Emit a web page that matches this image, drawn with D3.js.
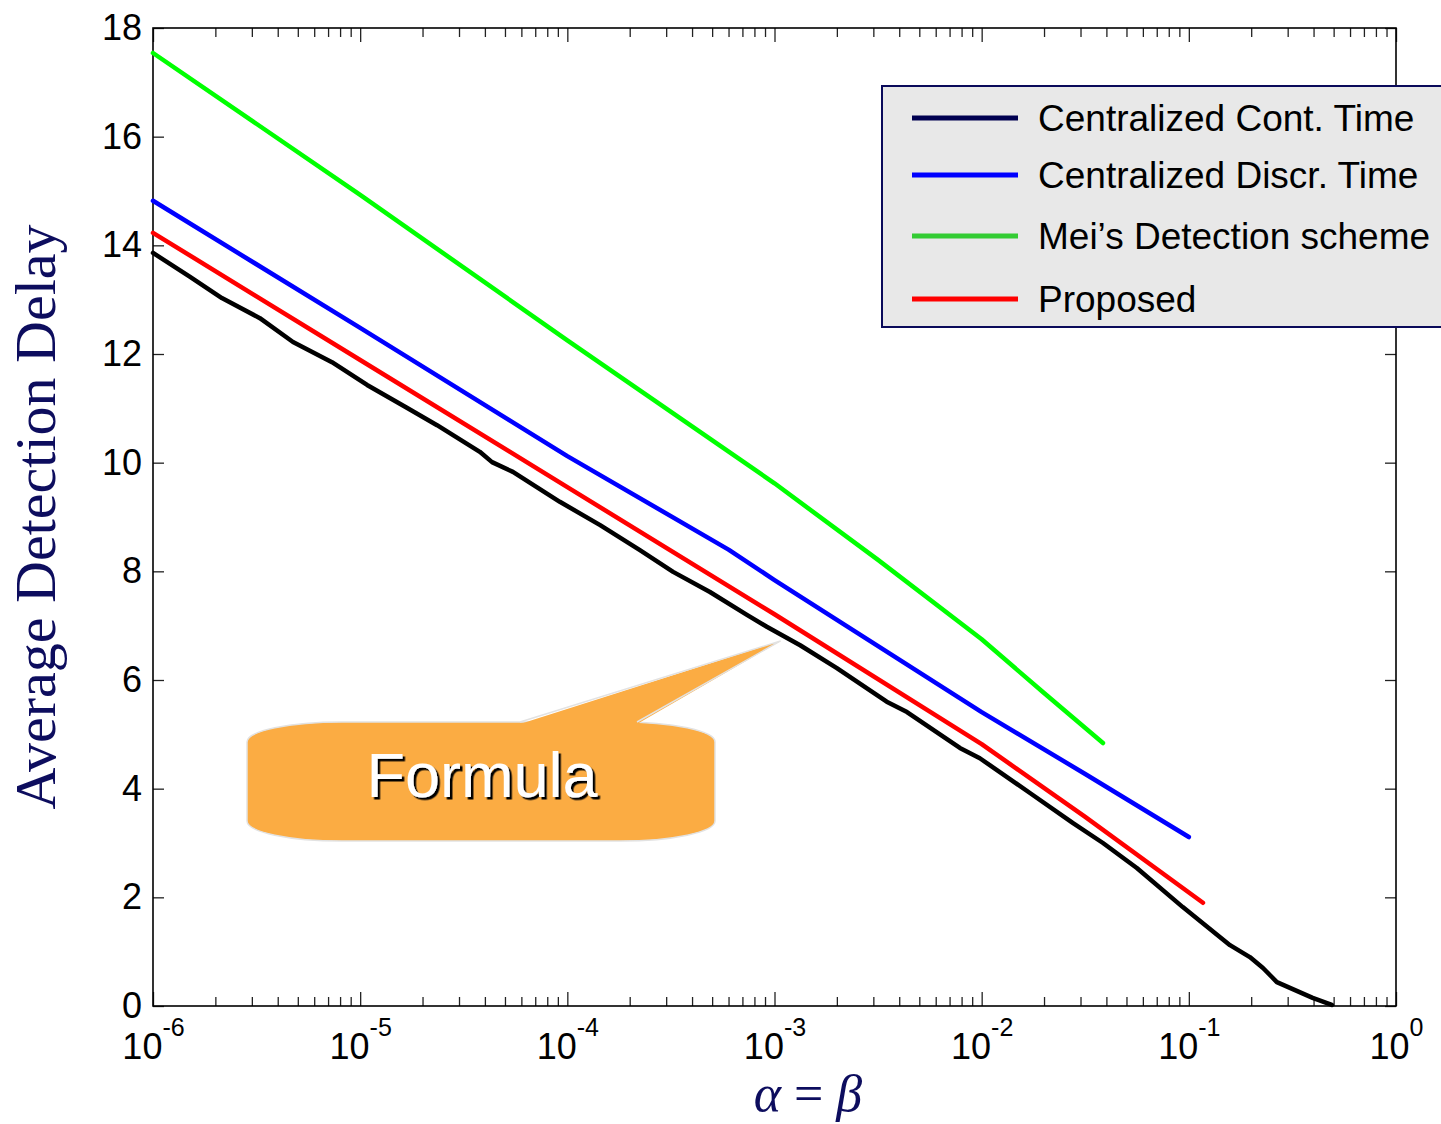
<!DOCTYPE html>
<html>
<head>
<meta charset="utf-8">
<script src="https://cdn.jsdelivr.net/npm/d3@7"></script>
<style>
  body { margin: 0; background: #fff; }
  svg { display: block; }
  .tick-label { font-family: "Liberation Sans", Arial, sans-serif; fill: #000; }
  .legend-text { font-family: "Liberation Sans", Arial, sans-serif; font-size: 37px; fill: #000; }
</style>
</head>
<body>
<svg id="chart" width="1441" height="1124"></svg>
<script>
// ---- data ----
const contAlpha = [1e-6, 1.51e-6, 2.15e-6, 3.28e-6, 4.74e-6, 7.31e-6, 1.08e-5, 1.68e-5, 2.35e-5, 3.78e-5,
  4.33e-5, 5.46e-5, 9.2e-5, 1.44e-4, 2.24e-4, 3.24e-4, 4.88e-4, 7.36e-4, 9.18e-4, 1.33e-3,
  2.0e-3, 3.48e-3, 4.36e-3, 7.85e-3, 9.8e-3, 0.0171, 0.0275, 0.0385, 0.0561, 0.0935,
  0.158, 0.197, 0.228, 0.266, 0.396, 0.49];
const contDelay = [13.86, 13.42, 13.03, 12.66, 12.22, 11.85, 11.43, 11.01, 10.69, 10.20,
  10.01, 9.83, 9.28, 8.85, 8.39, 7.99, 7.62, 7.20, 6.98, 6.64,
  6.22, 5.60, 5.41, 4.75, 4.56, 3.92, 3.37, 3.00, 2.54, 1.82,
  1.12, 0.90, 0.70, 0.44, 0.15, 0.02];

const discrAlpha = [1e-6, 1e-5, 1e-4, 6e-4, 1e-3, 1e-2, 0.0316, 0.1];
const discrDelay = [14.82, 12.48, 10.12, 8.4, 7.84, 5.41, 4.27, 3.11];

const meiAlpha = [1e-6, 1e-5, 1e-4, 1e-3, 3.16e-3, 1e-2, 0.02, 0.0385];
const meiDelay = [17.54, 14.93, 12.25, 9.62, 8.21, 6.75, 5.76, 4.84];

const propAlpha = [1e-6, 1e-5, 1e-4, 1e-3, 1e-2, 0.0316, 0.117];
const propDelay = [14.23, 11.89, 9.55, 7.21, 4.82, 3.48, 1.9];

const seriesNames = ["Centralized Cont. Time", "Centralized Discr. Time", "Mei\u2019s Detection scheme", "Proposed"];
const lineColors = ["#000000", "#0000ff", "#00ff00", "#ff0000"];
const legendColors = ["#000050", "#0000ff", "#33cc33", "#ff0000"];

const xExponents = [-6, -5, -4, -3, -2, -1, 0];
const yTicks = [0, 2, 4, 6, 8, 10, 12, 14, 16, 18];

// ---- layout ----
const svg = d3.select("#chart");
const margins = { top: 28, right: 45, bottom: 118, left: 153 };
const chartWidth = svg.attr("width") - margins.left - margins.right;
const chartHeight = svg.attr("height") - margins.top - margins.bottom;

const xScale = d3.scaleLog().domain([1e-6, 1]).range([0, chartWidth]);
const yScale = d3.scaleLinear().domain([0, 18]).range([chartHeight, 0]);

const defs = svg.append("defs");
defs.append("filter")
  .attr("id", "shadow")
  .attr("x", "-10%").attr("y", "-20%").attr("width", "130%").attr("height", "150%")
  .append("feDropShadow")
  .attr("dx", 2.5).attr("dy", 2.5)
  .attr("stdDeviation", 0.3)
  .attr("flood-color", "#000")
  .attr("flood-opacity", 1);

const chartArea = svg.append("g")
  .attr("transform", `translate(${margins.left},${margins.top})`);

// minor + major tick positions for the log axis
let minorTicks = [];
xExponents.slice(0, -1).forEach((e) => {
  for (let m = 2; m <= 9; m++) minorTicks.push(m * Math.pow(10, e));
});
const majorTicks = xExponents.map((e) => Math.pow(10, e));

function styleAxis(g) {
  g.select(".domain").remove();
  g.selectAll(".tick line").attr("stroke", "#222").attr("stroke-width", 1.3);
}

// bottom
chartArea.append("g")
  .attr("transform", `translate(0,${chartHeight})`)
  .call(d3.axisBottom(xScale).tickValues(minorTicks).tickSize(-9).tickFormat(""))
  .call(styleAxis);
const bottomMajor = chartArea.append("g")
  .attr("transform", `translate(0,${chartHeight})`)
  .call(d3.axisBottom(xScale).tickValues(majorTicks).tickSize(-14).tickFormat(""))
  .call(styleAxis);
// top
chartArea.append("g")
  .call(d3.axisTop(xScale).tickValues(minorTicks).tickSize(-9).tickFormat(""))
  .call(styleAxis);
chartArea.append("g")
  .call(d3.axisTop(xScale).tickValues(majorTicks).tickSize(-14).tickFormat(""))
  .call(styleAxis);
// left with labels
chartArea.append("g")
  .call(d3.axisLeft(yScale).tickValues(yTicks).tickSize(-11).tickPadding(11).tickFormat(d3.format("d")))
  .call(styleAxis)
  .call((g) => g.selectAll("text").attr("class", "tick-label").attr("font-size", 36).attr("fill", "#000"));
// right mirror
chartArea.append("g")
  .attr("transform", `translate(${chartWidth},0)`)
  .call(d3.axisRight(yScale).tickValues(yTicks).tickSize(-11).tickFormat(""))
  .call(styleAxis);

// x labels 10^n
bottomMajor.selectAll(".tick").each(function (d) {
  const t = d3.select(this).append("text")
    .attr("class", "tick-label")
    .attr("text-anchor", "middle")
    .attr("y", 53)
    .attr("font-size", 36);
  t.append("tspan").text("10");
  t.append("tspan").attr("font-size", 25).attr("dy", -23).text(Math.round(Math.log10(d)));
});

// frame
chartArea.append("rect")
  .attr("width", chartWidth)
  .attr("height", chartHeight)
  .attr("fill", "none")
  .attr("stroke", "#000")
  .attr("stroke-width", 1.6);

// ---- series ----
const line = d3.line()
  .x((d) => xScale(d[0]))
  .y((d) => yScale(d[1]));

const allSeries = [
  d3.zip(contAlpha, contDelay),
  d3.zip(discrAlpha, discrDelay),
  d3.zip(meiAlpha, meiDelay),
  d3.zip(propAlpha, propDelay)
];
// draw order: green, blue, red, black on top
[2, 1, 3, 0].forEach((i) => {
  chartArea.append("path")
    .datum(allSeries[i])
    .attr("d", line)
    .attr("fill", "none")
    .attr("stroke", lineColors[i])
    .attr("stroke-width", 4.5)
    .attr("stroke-linecap", "round")
    .attr("stroke-linejoin", "round");
});

// ---- callout "Formula" ----
const tipX = margins.left + xScale(1.07e-3);
const tipY = margins.top + yScale(6.72);
const callout = svg.append("g");
callout.append("rect")
  .attr("x", 247).attr("y", 722)
  .attr("width", 468).attr("height", 119)
  .attr("rx", 95).attr("ry", 20)
  .attr("fill", "#fbac43")
  .attr("stroke", "#e2e2e2")
  .attr("stroke-width", 1.5);
callout.append("path")
  .attr("d", `M520,724 L${tipX},${tipY} L637,724 Z`)
  .attr("fill", "#fbac43");
callout.append("path")
  .attr("d", `M520,722 L${tipX},${tipY} L637,722`)
  .attr("fill", "none")
  .attr("stroke", "#e2e2e2")
  .attr("stroke-width", 1.5);
callout.append("text")
  .attr("x", 482).attr("y", 797)
  .attr("text-anchor", "middle")
  .attr("font-family", "Liberation Sans, Arial, sans-serif")
  .attr("font-size", 63)
  .attr("fill", "#fff")
  .attr("filter", "url(#shadow)")
  .text("Formula");

// ---- legend ----
const legend = svg.append("g");
legend.append("rect")
  .attr("x", 882).attr("y", 86)
  .attr("width", 620).attr("height", 241)
  .attr("fill", "#e8e8e8")
  .attr("stroke", "#0a0a5a")
  .attr("stroke-width", 2);
const legendRows = [118, 175, 236, 299];
seriesNames.forEach((name, i) => {
  legend.append("line")
    .attr("x1", 912).attr("x2", 1018)
    .attr("y1", legendRows[i]).attr("y2", legendRows[i])
    .attr("stroke", legendColors[i])
    .attr("stroke-width", 5);
  legend.append("text")
    .attr("class", "legend-text")
    .attr("x", 1038)
    .attr("y", legendRows[i] + 13)
    .text(name);
});

// ---- axis titles ----
svg.append("text")
  .attr("transform", `translate(55, ${margins.top + chartHeight / 2}) rotate(-90)`)
  .attr("text-anchor", "middle")
  .attr("font-family", "Liberation Serif, Times New Roman, serif")
  .attr("font-size", 58)
  .attr("fill", "#0d0d5e")
  .text("Average Detection Delay");

const xTitle = svg.append("text")
  .attr("x", 808)
  .attr("y", 1111)
  .attr("text-anchor", "middle")
  .attr("font-family", "Liberation Serif, Times New Roman, serif")
  .attr("font-size", 52)
  .attr("fill", "#0d0d5e");
xTitle.append("tspan").attr("font-style", "italic").text("\u03b1");
xTitle.append("tspan").text(" = ");
xTitle.append("tspan").attr("font-style", "italic").text("\u03b2");
</script>
</body>
</html>
